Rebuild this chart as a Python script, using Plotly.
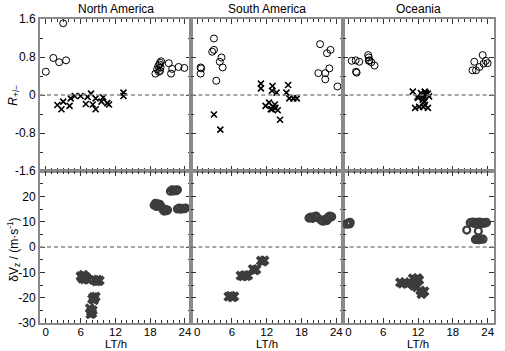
import plotly.graph_objects as go
from plotly.subplots import make_subplots

regions = ["North America", "South America", "Oceania"]
x_tick_vals = [0, 6, 12, 18, 24]
x_tick_text = ["0", "6", "12", "18", "24"]
r_tick_vals = [-1.6, -0.8, 0, 0.8, 1.6]
r_tick_text = ["-1.6", "-0.8", "0", "0.8", "1.6"]
v_tick_vals = [-30, -20, -10, 0, 10, 20]
v_tick_text = ["-30", "-20", "-10", "0", "10", "20"]

# ---- R+/- (top row) ----
na_r_circ_lt = [0.0, 1.3, 2.3, 3.0, 3.5, 18.9, 19.2, 19.4, 19.5, 19.6, 19.7, 19.8, 19.9, 19.7, 21.2, 21.6, 21.8, 22.9, 23.9]
na_r_circ_v = [0.49, 0.78, 0.69, 1.51, 0.73, 0.45, 0.54, 0.61, 0.49, 0.64, 0.68, 0.58, 0.71, 0.51, 0.67, 0.45, 0.55, 0.59, 0.57]
na_r_x_lt = [2.0, 2.7, 3.0, 4.1, 4.3, 5.0, 6.0, 6.9, 7.2, 7.8, 8.1, 8.6, 8.6, 9.6, 9.9, 10.6, 10.9, 13.4, 13.4]
na_r_x_v = [-0.21, -0.30, -0.14, -0.23, -0.07, -0.02, -0.02, -0.19, -0.04, 0.03, -0.20, -0.30, -0.07, -0.14, -0.05, -0.17, -0.20, 0.05, -0.02]

sa_r_circ_lt = [0.6, 0.7, 0.6, 2.9, 2.9, 2.6, 3.3, 4.2, 3.9, 4.4, 21.2, 20.9, 22.1, 22.1, 22.4, 23.0, 22.8, 24.2]
sa_r_circ_v = [0.58, 0.56, 0.45, 1.19, 0.95, 0.91, 0.30, 0.79, 0.70, 0.58, 1.07, 0.46, 0.46, 0.33, 0.88, 0.95, 0.56, 0.18]
sa_r_x_lt = [2.9, 4.0, 11.0, 11.0, 13.0, 12.9, 13.7, 15.7, 15.4, 15.9, 16.6, 17.2, 11.8, 12.4, 12.7, 13.1, 13.4, 13.9, 14.3, 12.9, 13.5]
sa_r_x_v = [-0.41, -0.73, 0.24, 0.14, 0.19, 0.09, 0.05, 0.21, 0.05, -0.07, -0.07, -0.07, -0.23, -0.16, -0.30, -0.25, -0.20, -0.32, -0.52, -0.30, -0.27]

oc_r_circ_lt = [0.56, 1.24, 1.86, 1.3, 1.4, 3.4, 3.5, 3.6, 3.95, 4.5, 3.5, 21.7, 21.4, 22.0, 22.6, 23.15, 23.3, 23.7, 24.0]
oc_r_circ_v = [0.72, 0.73, 0.70, 0.49, 0.47, 0.84, 0.79, 0.73, 0.69, 0.62, 0.72, 0.70, 0.52, 0.52, 0.59, 0.84, 0.66, 0.72, 0.67]
oc_r_x_lt = [11.1, 11.9, 12.0, 12.9, 13.15, 13.4, 13.7, 13.9, 12.8, 13.1, 11.5, 12.2, 12.9, 13.2, 13.7, 12.7, 13.0, 12.5, 13.3]
oc_r_x_v = [0.07, -0.04, -0.06, 0.0, 0.07, 0.02, 0.03, -0.03, -0.10, -0.14, -0.27, -0.25, -0.25, -0.21, -0.27, -0.02, -0.06, 0.04, 0.05]

# ---- dVz (bottom row) ----
na_v_circ_lt = [18.7, 18.9, 19.1, 19.3, 19.5, 19.7, 19.9, 19.0, 20.2, 20.4, 20.6, 20.8, 21.0,
                21.5, 21.8, 22.0, 22.3, 22.5, 22.7, 22.7, 23.0, 23.3, 23.6, 23.9, 24.1]
na_v_circ_v = [16.5, 17.2, 16.0, 17.0, 16.4, 16.8, 15.9, 16.8, 14.8, 14.2, 14.9, 14.3, 14.6,
               22.0, 22.6, 22.1, 22.5, 22.2, 22.6, 15.0, 15.4, 14.9, 15.3, 15.1, 15.4]
na_v_x_lt = [6.0, 6.3, 6.5, 6.7, 6.9, 7.1, 7.3, 6.2, 8.4, 8.7, 8.9, 9.1, 9.3,
             8.0, 8.2, 8.4, 8.6, 8.3, 7.6, 7.8, 8.0, 7.7, 8.1]
na_v_x_v = [-11.5, -12.5, -11.0, -12.8, -11.8, -12.4, -12.9, -12.0, -13.0, -13.6, -12.9, -13.5, -13.2,
            -20.5, -19.8, -20.3, -19.6, -21.0, -24.2, -25.5, -26.2, -26.5, -25.0]

sa_v_circ_lt = [19.3, 19.6, 19.9, 20.2, 20.5, 20.7, 21.4, 21.7, 22.0, 22.3, 22.6, 22.9, 23.2, 22.5]
sa_v_circ_v = [11.4, 11.8, 11.3, 11.9, 12.2, 11.6, 10.6, 10.2, 10.8, 10.4, 11.8, 12.2, 11.9, 10.9]
sa_v_x_lt = [5.4, 5.8, 6.1, 6.4, 7.5, 7.9, 8.2, 8.5, 8.8, 9.6, 9.9, 10.2, 11.0, 11.3, 11.6]
sa_v_x_v = [-19.6, -19.3, -19.9, -19.5, -11.3, -11.6, -11.1, -11.5, -11.2, -8.7, -9.2, -8.9, -5.4, -5.8, -5.3]

oc_v_circ_lt = [-0.3, 0.0, 0.3, 0.2, 21.0, 21.4, 21.7, 22.0, 22.3, 22.6, 22.9, 23.2, 23.5, 23.8,
                20.4, 22.4, 21.9, 22.2, 22.5, 22.8, 23.2]
oc_v_circ_v = [9.0, 9.5, 9.7, 9.1, 9.6, 9.8, 9.3, 9.7, 9.4, 9.8, 9.2, 9.6, 9.4, 9.7,
               6.7, 6.3, 3.0, 3.3, 2.9, 3.2, 3.1]
oc_v_x_lt = [8.9, 9.3, 9.7, 10.1, 10.5, 11.1, 11.5, 11.9, 12.2, 11.3, 11.8, 12.4, 12.8, 13.1, 12.6]
oc_v_x_v = [-14.0, -14.5, -13.9, -14.6, -14.2, -12.4, -12.9, -12.3, -13.0, -15.3, -15.9, -17.2, -18.0, -17.5, -18.6]

top_data = [
    (na_r_circ_lt, na_r_circ_v, na_r_x_lt, na_r_x_v),
    (sa_r_circ_lt, sa_r_circ_v, sa_r_x_lt, sa_r_x_v),
    (oc_r_circ_lt, oc_r_circ_v, oc_r_x_lt, oc_r_x_v),
]
bot_data = [
    (na_v_circ_lt, na_v_circ_v, na_v_x_lt, na_v_x_v),
    (sa_v_circ_lt, sa_v_circ_v, sa_v_x_lt, sa_v_x_v),
    (oc_v_circ_lt, oc_v_circ_v, oc_v_x_lt, oc_v_x_v),
]

FONT = "Liberation Sans, Arial, sans-serif"
AXIS_LINE = "#8a8a8a"
TICK = "#333333"
DARK = "#3c3c3c"

fig = make_subplots(rows=2, cols=3, horizontal_spacing=0, vertical_spacing=0)

for c in range(3):
    cl, cv, xl, xv = top_data[c]
    fig.add_trace(go.Scatter(x=cl, y=cv, mode="markers",
                             marker=dict(symbol="circle-open", size=7, color="black", line=dict(width=1))),
                  row=1, col=c + 1)
    fig.add_trace(go.Scatter(x=xl, y=xv, mode="markers",
                             marker=dict(symbol="x-thin-open", size=6, color="black", line=dict(width=1.6))),
                  row=1, col=c + 1)
    cl, cv, xl, xv = bot_data[c]
    fig.add_trace(go.Scatter(x=cl, y=cv, mode="markers",
                             marker=dict(symbol="circle-open", size=7, color=DARK, line=dict(width=2.2))),
                  row=2, col=c + 1)
    fig.add_trace(go.Scatter(x=xl, y=xv, mode="markers",
                             marker=dict(symbol="x", size=9, color=DARK, line=dict(width=0))),
                  row=2, col=c + 1)
    for r in (1, 2):
        fig.add_hline(y=0, line=dict(color="#8a8a8a", width=1.3, dash="4px,3px"), row=r, col=c + 1)

common_axis = dict(showline=True, linecolor=AXIS_LINE, linewidth=2, mirror="ticks",
                   ticks="inside", ticklen=5, tickwidth=1, tickcolor=TICK,
                   showgrid=False, zeroline=False,
                   tickfont=dict(family=FONT, size=12, color="black"))

for r in (1, 2):
    for c in (1, 2, 3):
        xax = dict(common_axis)
        extra = {}
        if r == 2:
            xax["tickfont"] = dict(family=FONT, size=11.5, color="black")
            extra["ticklabelstandoff"] = -3
        fig.update_xaxes(range=[-1.0, 25.1], tickvals=x_tick_vals, ticktext=x_tick_text,
                         minor=dict(dtick=1, tick0=0, ticks="inside", ticklen=3, tickcolor=TICK, showgrid=False),
                         showticklabels=(r == 2), row=r, col=c, **xax, **extra)
        if r == 1:
            fig.update_yaxes(range=[-1.6, 1.6], tickvals=r_tick_vals, ticktext=r_tick_text,
                             minor=dict(dtick=0.4, tick0=0, ticks="inside", ticklen=3, tickcolor=TICK, showgrid=False),
                             showticklabels=(c == 1), row=r, col=c, **common_axis)
        else:
            fig.update_yaxes(range=[-30, 30], tickvals=v_tick_vals, ticktext=v_tick_text,
                             minor=dict(dtick=5, tick0=0, ticks="inside", ticklen=3, tickcolor=TICK, showgrid=False),
                             showticklabels=(c == 1), row=r, col=c, **common_axis)

annotations = []
for i, name in enumerate(regions):
    xref = "x domain" if i == 0 else f"x{i + 1} domain"
    annotations.append(dict(text=name, x=0.5, y=1.0, xref=xref, yref="paper", xanchor="center",
                            yanchor="bottom", yshift=1, showarrow=False,
                            font=dict(family=FONT, size=12, color="black")))
    xref_b = f"x{i + 4} domain"
    annotations.append(dict(text="LT/h", x=0.5, y=0, xref=xref_b, yref="paper", xanchor="center",
                            yanchor="bottom", yshift=-28, showarrow=False, borderpad=0,
                            font=dict(family=FONT, size=11.5, color="black")))

annotations.append(dict(text="<i>R</i><sub>+/−</sub>", x=-0.058, y=0.5, xref="paper", yref="y domain",
                        textangle=-90, showarrow=False, xanchor="center", yanchor="middle",
                        font=dict(family=FONT, size=12, color="black")))
annotations.append(dict(text="δV<sub>z</sub> / (m·s<sup>-1</sup>)", x=-0.058, y=0.48, xref="paper", yref="y4 domain",
                        textangle=-90, showarrow=False, xanchor="center", yanchor="middle",
                        font=dict(family=FONT, size=12, color="black")))

fig.update_layout(width=505, height=351, margin=dict(l=40, r=9, t=19, b=28),
                  paper_bgcolor="white", plot_bgcolor="white", showlegend=False,
                  annotations=annotations, font=dict(family=FONT, size=12, color="black"))

fig.write_html("out.html")
